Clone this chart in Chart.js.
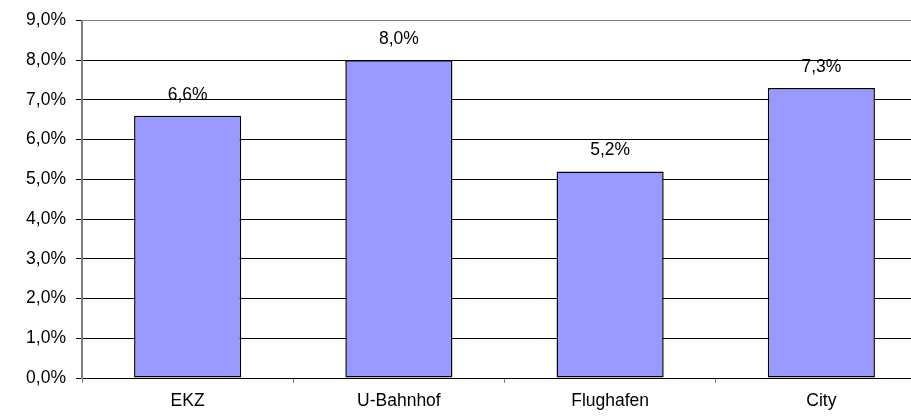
<!DOCTYPE html>
<html>
<head>
<meta charset="utf-8">
<script src="https://cdn.jsdelivr.net/npm/chart.js@4"></script>
<style>
    html, body { margin: 0; padding: 0; background: #fff; overflow: hidden; }
    .c-wrap { position: relative; width: 940px; height: 416px; }
</style>
</head>
<body>
<div class="c-wrap"><canvas class="js-graph-canvas"></canvas></div>
<script>
const categories = ['EKZ', 'U-Bahnhof', 'Flughafen', 'City'];
const values = [6.6, 8.0, 5.2, 7.3];
const yTicks = [0, 1, 2, 3, 4, 5, 6, 7, 8, 9];

const fmt = v => v.toFixed(1).replace('.', ',') + '%';
const font = { family: 'Liberation Sans, Arial, sans-serif', size: 17.5 };

// labels above each bar
const barLabels = {
    id: 'barLabels',
    afterDatasetsDraw(chart) {
        const ctx = chart.ctx;
        const meta = chart.getDatasetMeta(0);
        ctx.save();
        ctx.font = font.size + 'px ' + font.family;
        ctx.fillStyle = '#000';
        ctx.textAlign = 'center';
        ctx.textBaseline = 'alphabetic';
        meta.data.forEach((bar, i) => {
            ctx.fillText(fmt(values[i]), bar.x, bar.y - 16);
        });
        ctx.restore();
    }
};

const ctx = document.querySelector('.js-graph-canvas');
new Chart(ctx, {
    type: 'bar',
    data: {
        labels: categories,
        datasets: [{
            data: values,
            backgroundColor: '#9999ff',
            borderColor: '#000',
            borderWidth: 1.5,
            borderSkipped: false,
            categoryPercentage: 1,
            barPercentage: 0.507
        }]
    },
    options: {
        responsive: true,
        maintainAspectRatio: false,
        animation: false,
        layout: { padding: { top: 20, right: 13, left: 0, bottom: 0 } },
        plugins: { legend: { display: false }, tooltip: { enabled: false } },
        scales: {
            x: {
                offset: true,
                grid: { offset: true, drawOnChartArea: false, tickLength: 5, tickColor: '#808080' },
                border: { color: '#000', width: 1 },
                ticks: { color: '#000', font, padding: 8 },
                afterFit(scale) { scale.height = 38; }
            },
            y: {
                min: 0,
                max: 9,
                afterBuildTicks(scale) { scale.ticks = yTicks.map(v => ({ value: v })); },
                grid: {
                    color: c => (c.tick && c.tick.value === 9) ? '#808080' : '#000',
                    tickColor: '#000',
                    tickLength: 6
                },
                border: { color: '#808080', width: 2 },
                ticks: { color: '#000', font, padding: 10, callback: v => fmt(v) },
                afterFit(scale) { scale.width = 82; }
            }
        }
    },
    plugins: [barLabels]
});
</script>
</body>
</html>
